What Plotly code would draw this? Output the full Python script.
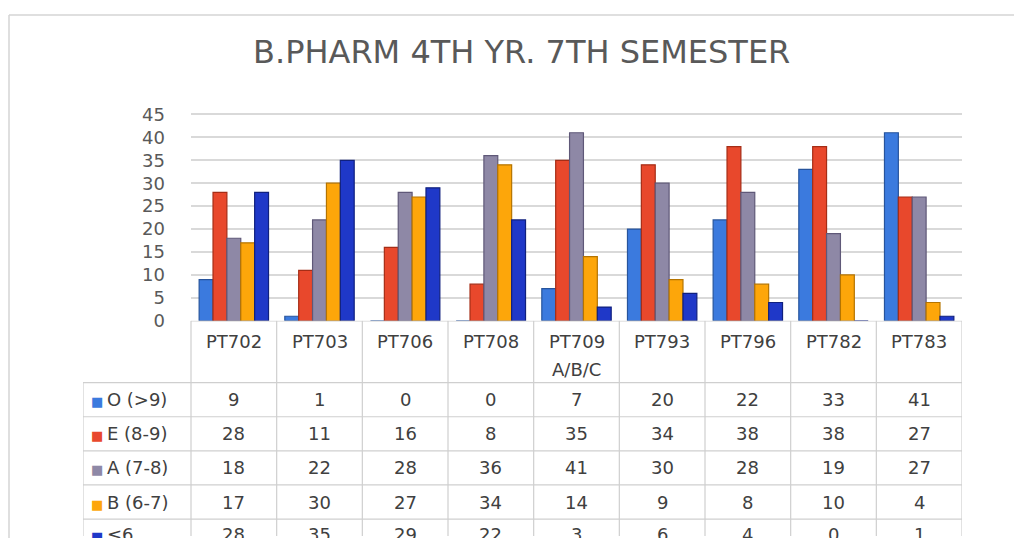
import plotly.graph_objects as go

# ---------------- data ----------------
categories = ["PT702", "PT703", "PT706", "PT708", "PT709<br>A/B/C",
              "PT793", "PT796", "PT782", "PT783"]
series_names = ["O (>9)", "E (8-9)", "A (7-8)", "B (6-7)", "≤6"]
o_vals = [9, 1, 0, 0, 7, 20, 22, 33, 41]
e_vals = [28, 11, 16, 8, 35, 34, 38, 38, 27]
a_vals = [18, 22, 28, 36, 41, 30, 28, 19, 27]
b_vals = [17, 30, 27, 34, 14, 9, 8, 10, 4]
lt6_vals = [28, 35, 29, 22, 3, 6, 4, 0, 1]
y_ticks = [0, 5, 10, 15, 20, 25, 30, 35, 40, 45]
title_text = "B.PHARM 4TH YR. 7TH SEMESTER"

series_vals = [o_vals, e_vals, a_vals, b_vals, lt6_vals]
colors = ["#3b7ade", "#e8482c", "#8e88a6", "#fda60a", "#1f38c8"]
edge_colors = ["#27549c", "#a52d16", "#5f5878", "#b57400", "#10207e"]

# ---------------- geometry ----------------
# reference-pixel -> figure-fraction mapping (measured page offset/scale)
X_OFF = 8
Y_OFF, Y_SCALE = 12.3, 0.973
W, H = 1006, 538
def fx(p): return (p - X_OFF) / W
def fy(p): return 1 - ((p - Y_OFF) / Y_SCALE) / H

col_left, col_right = 191, 962
col_w = (col_right - col_left) / len(categories)
label_left = 83
plot_bottom = 320
header_bottom = 382
row_h = 34.2
page_bottom = Y_SCALE * H + Y_OFF
y_top_val = 46
px_per_unit = 4.6
plot_top = plot_bottom - y_top_val * px_per_unit
header_line_gap = 28

FONT = "DejaVu Sans"
TXT = "#404040"
GRID = "#d9d9d9"
TLINE = "#cfcfcf"

fig = go.Figure()
for name, vals, c, ec in zip(series_names, series_vals, colors, edge_colors):
    fig.add_trace(go.Bar(
        x=categories, y=vals, name=name,
        marker=dict(color=c, line=dict(color=ec, width=1.2)),
        xaxis="x", yaxis="y", showlegend=False,
    ))

x2_left = -0.5 - (col_left - label_left) / col_w
hdr_units = (header_bottom - plot_bottom) / row_h
bottom_units = (page_bottom - header_bottom) / row_h

fig.update_layout(
    width=W, height=H,
    margin=dict(l=0, r=0, t=0, b=0),
    paper_bgcolor="white", plot_bgcolor="rgba(0,0,0,0)",
    barmode="group", bargap=0.19, bargroupgap=0.0,
    font=dict(family=FONT, color=TXT),
    xaxis=dict(domain=[fx(col_left), fx(col_right)], range=[-0.5, len(categories) - 0.5],
               showticklabels=False, showgrid=False, zeroline=False, showline=False,
               ticks="", fixedrange=True),
    yaxis=dict(domain=[fy(plot_bottom), fy(plot_top)], range=[0, y_top_val],
               tickvals=y_ticks, showgrid=True, gridcolor=GRID, gridwidth=1.5,
               zeroline=False, showline=False, ticks="",
               tickfont=dict(family=FONT, size=18, color="#595959"),
               ticklabelstandoff=25),
    xaxis2=dict(domain=[fx(label_left), fx(col_right)], range=[x2_left, len(categories) - 0.5],
                visible=False, anchor="y2"),
    yaxis2=dict(domain=[0, fy(plot_bottom)], range=[bottom_units, -hdr_units],
                visible=False, anchor="x2"),
)

# invisible trace to activate the table subplot
fig.add_trace(go.Scatter(x=[0], y=[0], xaxis="x2", yaxis="y2", mode="markers",
                         marker=dict(opacity=0), showlegend=False, hoverinfo="skip"))

shapes = []
border_top = min(fy(10), 1 - 1 / H)
# outer chart border (left and top)
shapes.append(dict(type="line", xref="paper", yref="paper", x0=fx(9), x1=fx(9),
                   y0=-0.1, y1=border_top, line=dict(color="#d4d4d4", width=1.5)))
shapes.append(dict(type="line", xref="paper", yref="paper", x0=fx(9), x1=1.1,
                   y0=border_top, y1=border_top, line=dict(color="#d4d4d4", width=1.5)))
# table: header top line
shapes.append(dict(type="line", xref="x2", yref="y2", x0=-0.5, x1=len(categories) - 0.5,
                   y0=-hdr_units, y1=-hdr_units, line=dict(color=TLINE, width=1.2)))
# table: horizontal row lines
for r in range(len(series_names) + 1):
    shapes.append(dict(type="line", xref="x2", yref="y2", x0=x2_left, x1=len(categories) - 0.5,
                       y0=r, y1=r, line=dict(color=TLINE, width=1.2)))
# table: vertical column lines
for i in range(len(categories) + 1):
    shapes.append(dict(type="line", xref="x2", yref="y2", x0=i - 0.5, x1=i - 0.5,
                       y0=-hdr_units, y1=bottom_units + 1, line=dict(color=TLINE, width=1.2)))
shapes.append(dict(type="line", xref="x2", yref="y2", x0=x2_left, x1=x2_left,
                   y0=0, y1=bottom_units + 1, line=dict(color=TLINE, width=1.2)))

annotations = []
annotations.append(dict(text=title_text, xref="paper", yref="paper", x=fx(521), y=fy(50),
                        showarrow=False, xanchor="center", yanchor="middle",
                        font=dict(family=FONT, size=32, color="#595959")))
# header labels (each line placed separately for wider line spacing)
for i, cat in enumerate(categories):
    for k, line in enumerate(cat.split("<br>")):
        annotations.append(dict(text=line, xref="x2", yref="y2", x=i,
                                y=-hdr_units + (21 + k * header_line_gap) / row_h,
                                showarrow=False, xanchor="center", yanchor="middle",
                                font=dict(family=FONT, size=18, color=TXT)))
# row labels and values (last row is cut by the page edge, as in the source image)
for r, (name, vals, c) in enumerate(zip(series_names, series_vals, colors)):
    yc = min(r + 0.5, bottom_units - 0.03)
    annotations.append(dict(
        text=f'<span style="color:{c};font-size:13px">■</span>\u2009{name}',
        xref="x2", yref="y2", x=x2_left + 6 / col_w, y=yc,
        showarrow=False, xanchor="left", yanchor="middle",
        font=dict(family=FONT, size=18, color=TXT)))
    for i, v in enumerate(vals):
        annotations.append(dict(text=str(v), xref="x2", yref="y2", x=i, y=yc,
                                showarrow=False, xanchor="center", yanchor="middle",
                                font=dict(family=FONT, size=18, color=TXT)))

fig.update_layout(shapes=shapes, annotations=annotations)
fig.write_html("out.html")
